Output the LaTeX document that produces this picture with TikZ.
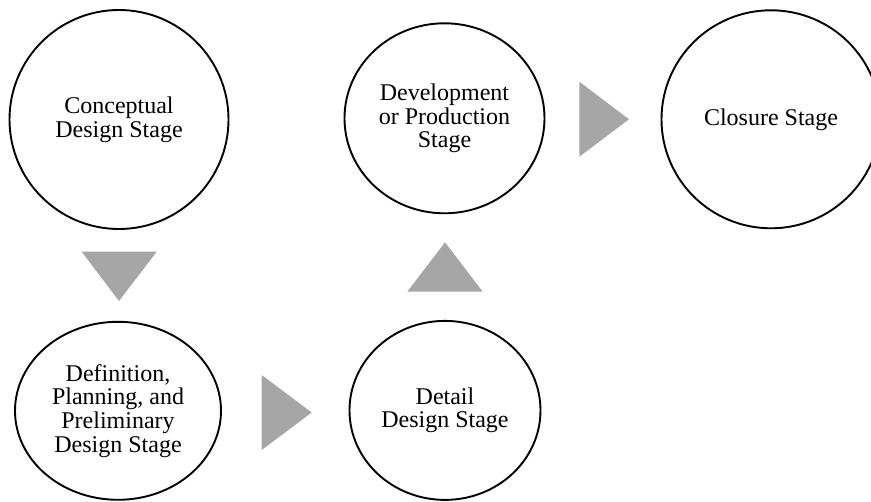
\documentclass[tikz,border=0pt]{standalone}
\usepackage{fontspec}
\setmainfont{Liberation Serif}
\usetikzlibrary{shapes.geometric}
\definecolor{pointer}{RGB}{166,166,166}
\begin{document}
\begin{tikzpicture}[x=1pt,y=-1pt,
  stage/.style={ellipse,draw=black,line width=1.9pt,fill=white,inner sep=0pt,
    align=center,font=\fontsize{24}{23.6}\selectfont},
  pointer/.style={fill=pointer,draw=none}]
\path[use as bounding box] (0,0) rectangle (871,502);
\clip (0,0) rectangle (871,502);

% stages
\node[stage,minimum width=219pt,minimum height=219pt] (concept) at (119,119.5)
  {Conceptual\\Design Stage};
\node[stage,minimum width=206pt,minimum height=178pt] (define) at (118,410.8)
  {Definition,\\Planning, and\\Preliminary\\Design Stage};
\node[stage,minimum width=191pt,minimum height=179pt] (detail) at (445,410.4)
  {Detail\\Design Stage};
\node[stage,minimum width=200pt,minimum height=190pt] (develop) at (444.5,118.3)
  {Development\\or Production\\Stage};
\node[stage,minimum width=219pt,minimum height=218pt] (closure) at (771,119.3)
  {Closure Stage};

% flow pointers between the stages
\fill[pointer] (81.7,251.7) -- (156.7,251.7) -- (119,301) -- cycle;
\fill[pointer] (261.7,375) -- (261.7,450) -- (311.7,412.5) -- cycle;
\fill[pointer] (407.3,291.7) -- (482.7,291.7) -- (445,242.3) -- cycle;
\fill[pointer] (579.3,81.7) -- (579.3,156.7) -- (629,119.3) -- cycle;
\end{tikzpicture}
\end{document}
